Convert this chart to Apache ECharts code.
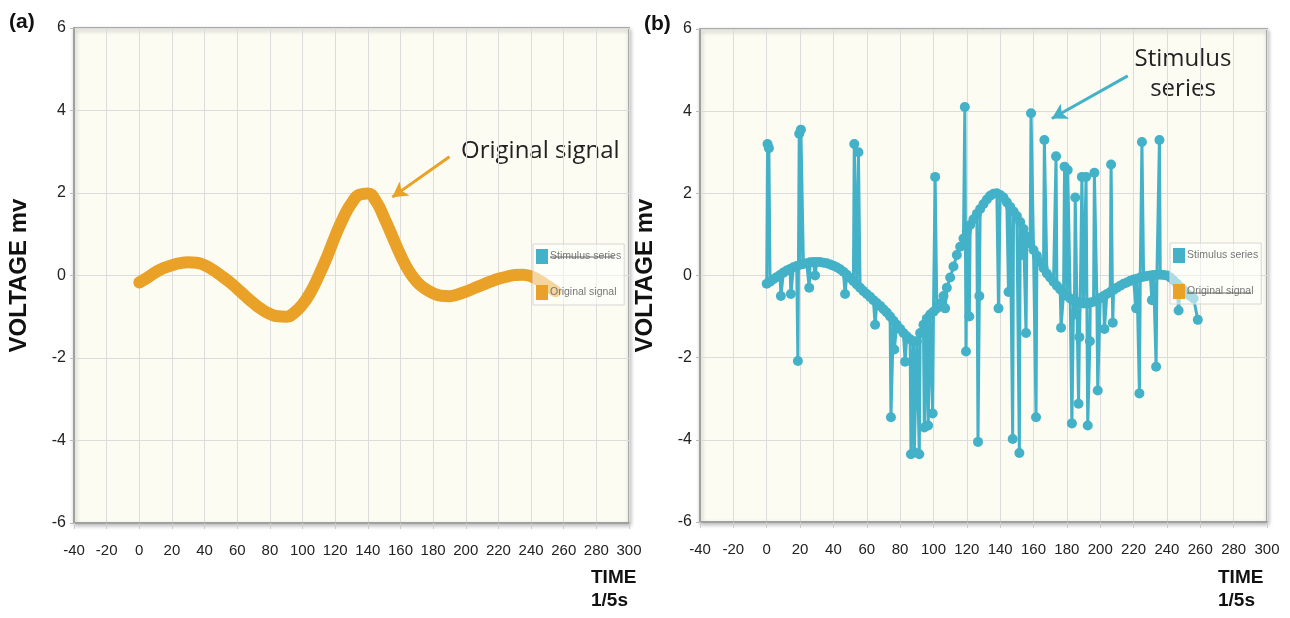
<!DOCTYPE html>
<html>
<head>
<meta charset="utf-8">
<script src="https://cdn.jsdelivr.net/npm/echarts@6/dist/echarts.min.js"></script>
<style>
html,body{margin:0;padding:0;background:#fff;}
#c{width:1290px;height:618px;}
</style>
</head>
<body>
<div id="c"></div>
<script>
// ---- Data ----
const origTime = [0,5,10,15,20,25,30,35,40,45,50,55,60,65,70,75,80,85,90,95,100,105,110,115,120,125,130,135,140,145,150,155,160,165,170,175,180,185,190,195,200,205,210,215,220,225,230,235,240,245,250,255];
const origVoltage = [-0.17,-0.05,0.08,0.18,0.25,0.3,0.32,0.31,0.25,0.14,0.0,-0.15,-0.32,-0.5,-0.67,-0.82,-0.93,-0.99,-1.0,-0.9,-0.7,-0.4,0.0,0.45,0.95,1.4,1.75,1.96,1.99,1.8,1.4,0.95,0.5,0.12,-0.15,-0.32,-0.43,-0.49,-0.5,-0.46,-0.39,-0.31,-0.23,-0.15,-0.08,-0.03,0.01,0.02,-0.02,-0.12,-0.25,-0.38];

// stimulus series samples: [time, voltage]
const stimSamples = [[0,-0.2],[0.5,3.2],[1.3,3.1],[2,-0.15],[4,-0.09],[6,-0.04],[8,0.01],[8.5,-0.5],[10,0.07],[12,0.12],[14,0.16],[14.5,-0.45],[16,0.2],[18,0.23],[18.7,-2.08],[19.5,3.45],[20,0.26],[20.5,3.55],[22,0.28],[24,0.3],[25.5,-0.3],[26,0.32],[28,0.33],[29,0.0],[30,0.33],[32,0.33],[34,0.31],[36,0.3],[38,0.27],[40,0.24],[42,0.2],[44,0.15],[46,0.09],[47,-0.45],[48,0.02],[50,-0.06],[52,-0.14],[52.5,3.2],[54,-0.22],[55,3.0],[56,-0.3],[58,-0.38],[60,-0.45],[62,-0.52],[64,-0.6],[65,-1.2],[66,-0.67],[68,-0.74],[70,-0.82],[72,-0.9],[74,-1.0],[74.5,-3.45],[76,-1.1],[76.5,-1.8],[78,-1.2],[80,-1.3],[82,-1.4],[83,-2.1],[84,-1.48],[86,-1.55],[86.5,-4.35],[88,-1.6],[88.5,-4.3],[90,-1.6],[91.5,-4.35],[92,-1.4],[94,-1.2],[94.5,-3.7],[96,-1.05],[96.8,-3.65],[98,-0.95],[99.5,-3.36],[100,-0.88],[101,2.4],[102,-0.8],[104,-0.68],[106,-0.5],[107,-0.8],[108,-0.3],[110,-0.05],[112,0.22],[114,0.5],[116,0.7],[118,0.9],[118.8,4.1],[119.5,-1.85],[120,1.08],[121.5,-1.0],[122,1.23],[124,1.37],[126,1.5],[126.7,-4.05],[127.5,-0.5],[128,1.62],[130,1.74],[132,1.85],[134,1.94],[136,1.99],[138,2.0],[139,-0.8],[140,1.96],[142,1.9],[144,1.78],[145,-0.4],[146,1.67],[147.5,-3.98],[148,1.56],[150,1.45],[151.5,-4.32],[152,1.3],[153.5,0.5],[154,1.13],[155.5,-1.4],[156,0.95],[158,0.78],[158.5,3.95],[160,0.62],[161.5,-3.45],[162,0.48],[164,0.33],[166,0.18],[166.5,3.3],[168,0.05],[170,-0.05],[172,-0.15],[173.5,2.9],[174,-0.25],[176,-0.34],[176.5,-1.27],[178,-0.43],[178.6,2.65],[180,-0.5],[180.5,2.57],[182,-0.56],[183,-3.6],[184,-0.6],[184.5,-0.95],[185,1.9],[186,-0.64],[187,-3.12],[187.5,-1.5],[188,-0.67],[189,2.4],[190,-0.68],[191.5,2.4],[192,-0.68],[192.5,-3.65],[193.8,-1.6],[194,-0.66],[196,-0.64],[196.5,2.5],[198,-0.6],[198.5,-2.8],[200,-0.55],[202,-0.5],[202.5,-1.3],[204,-0.45],[206,-0.4],[206.5,2.7],[207.5,-1.15],[208,-0.35],[210,-0.3],[212,-0.25],[214,-0.2],[216,-0.17],[218,-0.13],[220,-0.1],[221.5,-0.8],[222,-0.08],[223.5,-2.87],[224,-0.05],[225,3.25],[226,-0.03],[228,-0.01],[230,0.0],[231,-0.6],[232,0.01],[233.5,-2.22],[234,0.02],[235.5,3.3],[236,0.02],[238,0.01],[240,0.0],[242,-0.05],[244,-0.12],[246,-0.2],[247,-0.85],[248,-0.28],[250,-0.36],[252,-0.44],[254,-0.5],[256,-0.56],[258.5,-1.08]];

const seriesNames = ['Stimulus series', 'Original signal'];
const panelLabels = ['(a)', '(b)'];
const yAxisTitle = 'VOLTAGE mv';
const xAxisTitle = 'TIME\n1/5s';
const xRange = [-40, 300, 20];
const yRange = [-6, 6, 2];

// arrow annotations in data units
const arrowA = [[190, 2.88], [155, 1.9]];
const arrowB = [[216.5, 4.86], [171, 3.82]];

const ORANGE = '#E9A127';
const TEAL = '#43B1C7';

const chart = echarts.init(document.getElementById('c'), null, {renderer: 'canvas'});

const labelFont = {color: '#222', fontSize: 15, fontFamily: 'Liberation Sans, Arial, sans-serif'};

function mkGrid(left, top, width, height) {
  return {
    left, top, width, height, show: true,
    backgroundColor: '#FDFCF2',
    borderColor: '#AAAAAA', borderWidth: 2,
    shadowBlur: 4, shadowColor: 'rgba(0,0,0,0.25)', shadowOffsetX: 1, shadowOffsetY: 2
  };
}
function mkX(idx) {
  return {
    gridIndex: idx, type: 'value', min: xRange[0], max: xRange[1], interval: xRange[2],
    axisLine: {show: true, onZero: false, lineStyle: {color: '#A0A0A0', width: 2}},
    axisTick: {show: true, length: 6, lineStyle: {color: '#CCCCCC'}},
    axisLabel: Object.assign({margin: 20}, labelFont),
    splitLine: {show: true, lineStyle: {color: '#DCDCDC', width: 1}}
  };
}
function mkY(idx) {
  return {
    gridIndex: idx, type: 'value', min: yRange[0], max: yRange[1], interval: yRange[2],
    axisLine: {show: true, onZero: false, lineStyle: {color: '#A0A0A0', width: 2}},
    axisTick: {show: true, length: 4, lineStyle: {color: '#BBBBBB'}},
    axisLabel: Object.assign({margin: 8}, labelFont, {fontSize: 16}),
    splitLine: {show: true, lineStyle: {color: '#DCDCDC', width: 1}},
    name: yAxisTitle, nameLocation: 'middle', nameRotate: 90, nameGap: 43,
    nameTextStyle: {color: '#111', fontSize: 24, fontWeight: 'bold', fontFamily: 'Liberation Sans, Arial, sans-serif'}
  };
}
function mkLegend(left, top) {
  return {
    orient: 'vertical', left, top,
    data: seriesNames.map(n => ({name: n, icon: 'rect'})),
    itemWidth: 12, itemHeight: 15, itemGap: 21,
    padding: [5, 3, 5, 3],
    backgroundColor: 'rgba(255,255,255,0.55)',
    borderColor: '#D6D6D6', borderWidth: 1,
    selectedMode: false,
    textStyle: {color: '#777', fontSize: 10.5, fontFamily: 'Liberation Sans Narrow, Liberation Sans, Arial, sans-serif', padding: [0,0,0,-3]}
  };
}

const origData = origTime.map((t, i) => [t, origVoltage[i]]);

function arrowLine(pts, color) {
  return {
    silent: true, symbol: ['none', 'arrow'], symbolSize: [13, 15],
    label: {show: false},
    lineStyle: {color, width: 3, type: 'solid'},
    data: [[{coord: pts[0]}, {coord: pts[1]}]]
  };
}

const option = {
  animation: false,
  grid: [mkGrid(74, 28, 555, 495), mkGrid(700, 29, 567, 493)],
  xAxis: [mkX(0), mkX(1)],
  yAxis: [mkY(0), mkY(1)],
  legend: [mkLegend(533, 244), mkLegend(1170, 243)],
  series: [
    {
      name: seriesNames[1], type: 'line', xAxisIndex: 0, yAxisIndex: 0,
      data: origData, smooth: true, showSymbol: false, symbol: 'circle',
      itemStyle: {color: ORANGE},
      lineStyle: {color: ORANGE, width: 12, cap: 'round', join: 'round'},
      z: 2,
      markLine: arrowLine(arrowA, ORANGE)
    },
    {
      name: seriesNames[0], type: 'line', xAxisIndex: 1, yAxisIndex: 1,
      data: stimSamples, smooth: false, symbol: 'circle', symbolSize: 10, showAllSymbol: true,
      itemStyle: {color: TEAL},
      lineStyle: {color: TEAL, width: 3},
      z: 2,
      markLine: arrowLine(arrowB, TEAL)
    }
  ],
  graphic: [
    {type: 'text', left: 9, top: 12, style: {text: panelLabels[0], fontSize: 21, fontWeight: 'bold', fill: '#111', fontFamily: 'Liberation Sans, Arial, sans-serif'}},
    {type: 'text', left: 644, top: 14, style: {text: panelLabels[1], fontSize: 21, fontWeight: 'bold', fill: '#111', fontFamily: 'Liberation Sans, Arial, sans-serif'}},
    {type: 'text', left: 591, top: 566, style: {text: xAxisTitle, fontSize: 19, fontWeight: 'bold', fill: '#111', lineHeight: 23, fontFamily: 'Liberation Sans, Arial, sans-serif'}},
    {type: 'text', left: 1218, top: 566, style: {text: xAxisTitle, fontSize: 19, fontWeight: 'bold', fill: '#111', lineHeight: 23, fontFamily: 'Liberation Sans, Arial, sans-serif'}},
    {type: 'text', left: 461, top: 139, style: {text: 'Original signal', fontSize: 24, fill: '#222', fontFamily: 'Open Sans, Lato, sans-serif'}},
    {type: 'text', x: 1183, y: 44, style: {text: 'Stimulus\nseries', fontSize: 24, fill: '#222', lineHeight: 30, textAlign: 'center', fontFamily: 'Open Sans, Lato, sans-serif'}},
    // legend strike-through marks for hidden series
    {type: 'line', z: 100, shape: {x1: 550, y1: 257, x2: 614, y2: 257}, style: {stroke: '#666', lineWidth: 1}},
    {type: 'line', z: 100, shape: {x1: 1187, y1: 293, x2: 1251, y2: 293}, style: {stroke: '#666', lineWidth: 1}}
  ]
};
chart.setOption(option);
</script>
</body>
</html>
